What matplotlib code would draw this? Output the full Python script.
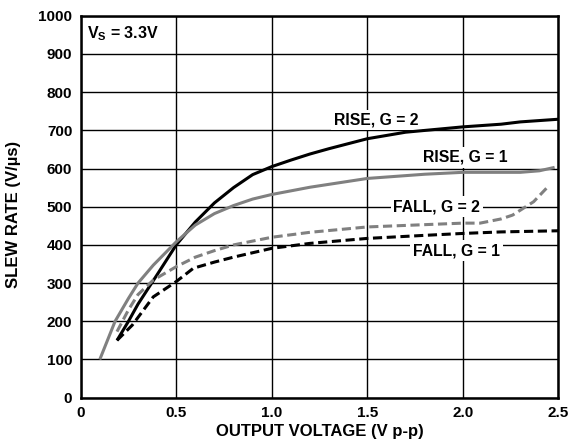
import matplotlib
matplotlib.use("Agg")
import matplotlib.pyplot as plt

plt.rcParams['font.family'] = ['Liberation Sans', 'DejaVu Sans']
plt.rcParams['mathtext.fontset'] = 'custom'
plt.rcParams['mathtext.rm'] = 'Liberation Sans:bold'
plt.rcParams['mathtext.it'] = 'Liberation Sans:bold'
plt.rcParams['mathtext.bf'] = 'Liberation Sans:bold'

# Data
rise_g2_x = [0.19, 0.25, 0.3, 0.4, 0.5, 0.6, 0.7, 0.8, 0.9, 1.0, 1.1, 1.2, 1.3, 1.5, 1.7, 2.0, 2.2, 2.3, 2.5]
rise_g2_y = [150, 200, 245, 322, 400, 460, 510, 550, 584, 605, 622, 638, 652, 678, 695, 709, 716, 722, 729]

rise_g1_x = [0.1, 0.18, 0.25, 0.3, 0.38, 0.5, 0.6, 0.7, 0.8, 0.9, 1.0, 1.2, 1.5, 1.8, 2.0, 2.3, 2.4, 2.48]
rise_g1_y = [100, 200, 260, 300, 347, 408, 452, 482, 503, 520, 532, 551, 574, 585, 590, 590, 594, 603]

fall_g2_x = [0.19, 0.25, 0.3, 0.38, 0.5, 0.6, 0.7, 0.8, 1.0, 1.2, 1.5, 1.8, 2.0, 2.09, 2.2, 2.26, 2.37, 2.45]
fall_g2_y = [173, 230, 270, 308, 343, 368, 385, 400, 420, 433, 447, 453, 457, 457, 468, 478, 513, 555]

fall_g1_x = [0.19, 0.27, 0.38, 0.5, 0.59, 0.7, 0.8, 1.0, 1.2, 1.5, 1.8, 2.0, 2.2, 2.5]
fall_g1_y = [150, 190, 264, 304, 339, 355, 368, 391, 404, 417, 425, 430, 434, 437]

x_ticks = [0, 0.5, 1.0, 1.5, 2.0, 2.5]
x_tick_labels = ["0", "0.5", "1.0", "1.5", "2.0", "2.5"]
y_ticks = list(range(0, 1001, 100))

gray = '#808080'
FAM = ['Liberation Sans', 'DejaVu Sans']

fig = plt.figure(figsize=(5.71, 4.44), dpi=100)
ax = fig.add_axes([0.1413, 0.1043, 0.8367, 0.8603])

ax.set_xlim(0, 2.5)
ax.set_ylim(0, 1000)
ax.set_xticks(x_ticks)
ax.set_xticklabels(x_tick_labels, family=FAM, weight='bold', fontsize=11)
ax.set_yticks(y_ticks)
ax.set_yticklabels([str(v) for v in y_ticks], family=FAM, weight='bold', fontsize=11)
ax.tick_params(axis='y', length=0, pad=6)
ax.tick_params(axis='x', length=0, pad=6)
ax.grid(True, color='black', linewidth=1.0, zorder=1)
ax.set_axisbelow(True)
for s in ax.spines.values():
    s.set_linewidth(1.8)
    s.set_zorder(5)

ax.plot(rise_g2_x, rise_g2_y, color='black', linewidth=2.2, zorder=4, solid_capstyle='butt')
ax.plot(rise_g1_x, rise_g1_y, color=gray, linewidth=2.2, zorder=4, solid_capstyle='butt')
ax.plot(fall_g2_x, fall_g2_y, color=gray, linewidth=2.2, zorder=4, dashes=(3, 1.5))
ax.plot(fall_g1_x, fall_g1_y, color='black', linewidth=2.2, zorder=4, dashes=(3, 1.5))

bbox = dict(facecolor='white', edgecolor='none', pad=2)
lab_kw = dict(family=FAM, fontsize=11.3, fontweight='bold', ha='center', va='center', zorder=3, bbox=bbox)
ax.text(1.548, 727, "RISE, G = 2", **lab_kw)
ax.text(2.013, 629, "RISE, G = 1", **lab_kw)
ax.text(1.864, 500, "FALL, G = 2", **lab_kw)
ax.text(1.966, 385, "FALL, G = 1", **lab_kw)

ax.text(0.035, 952, "$V_S$ = 3.3V", family=FAM, fontsize=11.5, fontweight='bold', ha='left', va='center',
        zorder=3, bbox=dict(facecolor='white', edgecolor='none', pad=1))

ax.set_xlabel("OUTPUT VOLTAGE (V p-p)", family=FAM, fontsize=12, fontweight='bold', labelpad=3)
ax.set_ylabel("SLEW RATE (V/µs)", family=FAM, fontsize=12, fontweight='bold')
ax.yaxis.set_label_coords(-0.125, 0.48)

fig.savefig("out.png", dpi=100)
